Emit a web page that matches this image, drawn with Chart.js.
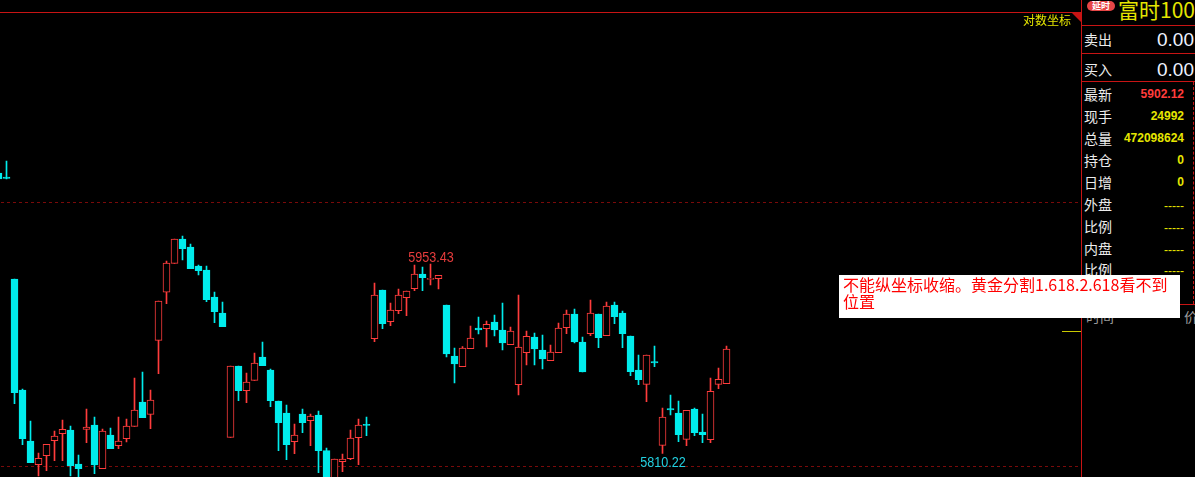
<!DOCTYPE html>
<html>
<head>
<meta charset="utf-8">
<title>K线</title>
<script src="https://cdn.jsdelivr.net/npm/chart.js@4.4.1/dist/chart.umd.min.js"></script>
<style>
  html, body { margin: 0; padding: 0; background: #000; }
  #wrap { position: relative; width: 1195px; height: 477px; overflow: hidden; background: #000;
          font-family: "Noto Sans CJK SC", sans-serif; }
  #kline { position: absolute; left: -6px; top: 0; }
  .a { position: absolute; white-space: nowrap; }
  .hl { position: absolute; height: 1px; background: #c81414; }
  .mark { position: absolute; font: 14px "Liberation Sans", Arial, sans-serif; line-height: 14px;
          transform: translateX(-50%) scaleX(0.9); white-space: nowrap; }
  #side { position: absolute; left: 1081px; top: 0; width: 114px; height: 477px; background: #000;
          border-left: 1px solid #c81414; }
  .lab { position: absolute; left: 2px; font-size: 14px; line-height: 20px; color: #ececec; }
  .val { position: absolute; right: 12px; font: bold 12px "Liberation Sans", Arial, sans-serif; line-height: 20px; }
  .big { position: absolute; right: 2px; font: 19px "Liberation Sans", Arial, sans-serif; line-height: 20px; color: #eef2ff; }
  .yel { color: #e6e600; }
  #note { position: absolute; left: 839px; top: 275px; width: 337px; height: 42px; background: #fff;
          padding: 1px 0 0 4px; font-size: 16px; line-height: 17px; color: #f00; white-space: nowrap; z-index: 5; }
</style>
</head>
<body>
<div id="wrap">
  <canvas id="kline" width="1089" height="477"></canvas>

  <div class="hl" style="left:0;top:12px;width:1081px"></div>
  <div class="a" style="left:1072px;top:13px;width:0;height:0;border-top:9px solid #c81414;border-left:9px solid transparent"></div>
  <div class="a yel" style="right:124px;top:13px;font-size:12px;line-height:14px">对数坐标</div>
  <div class="a" style="left:1062px;top:331px;width:19px;height:1px;background:#c8c800"></div>

  <div class="mark" id="hiMark" style="color:#e63c3c"></div>
  <div class="mark" id="loMark" style="color:#22d0e0"></div>

  <div id="side">
    <div class="a" style="left:5px;top:1px;width:28px;height:10px;border-radius:5px;background:#e64646;color:#fff;font-size:9px;line-height:10px;font-weight:bold;text-align:center">延时</div>
    <div class="a yel" style="left:36px;top:-3px;font-size:21px;line-height:24px">富时100</div>
    <div class="hl" style="left:0;top:25px;width:114px"></div>
    <div class="hl" style="left:0;top:53px;width:114px"></div>
    <div class="hl" style="left:0;top:81px;width:114px"></div>
    <div class="hl" style="left:0;top:304px;width:114px"></div>
    <div class="a" style="left:111px;top:82px;height:222px;border-left:1px dashed #c81414"></div>

    <div class="lab" style="top:29px">卖出</div><div class="big" style="top:30px">0.00</div>
    <div class="lab" style="top:59px">买入</div><div class="big" style="top:60px">0.00</div>

    <div class="lab" style="top:84px">最新</div><div class="val" style="top:84px;color:#ff3c3c">5902.12</div>
    <div class="lab" style="top:106px">现手</div><div class="val yel" style="top:106px">24992</div>
    <div class="lab" style="top:128px">总量</div><div class="val yel" style="top:128px">472098624</div>
    <div class="lab" style="top:150px">持仓</div><div class="val yel" style="top:150px">0</div>
    <div class="lab" style="top:172px">日增</div><div class="val yel" style="top:172px">0</div>
    <div class="lab" style="top:194px">外盘</div><div class="val yel" style="top:196px;font-weight:normal">-----</div>
    <div class="lab" style="top:216px">比例</div><div class="val yel" style="top:218px;font-weight:normal">-----</div>
    <div class="lab" style="top:238px">内盘</div><div class="val yel" style="top:240px;font-weight:normal">-----</div>
    <div class="lab" style="top:259px">比例</div><div class="val yel" style="top:261px;font-weight:normal">-----</div>

    <div class="lab" style="top:306px;left:4px;color:#9a9a9a">时间</div>
    <div class="lab" style="top:306px;left:102px;color:#9a9a9a">价</div>
  </div>

  <div id="note">不能纵坐标收缩。黄金分割1.618.2.618看不到<br>位置</div>
</div>

<script>
// daily bars, first one is cut by the left edge
const opens = [
  6022.28, 6019.25, 5942.09, 5858.11, 5819.53, 5801.60, 5808.41, 5819.76, 5825.06, 5827.85,
  5802.13, 5828.38, 5831.64, 5798.58, 5824.07, 5815.98, 5821.27, 5830.65, 5849.04, 5839.73,
  5895.71, 5932.03, 5953.96, 5972.35, 5966.29, 5951.92, 5948.89, 5928.47, 5916.37, 5822.33,
  5876.27, 5857.59, 5865.45, 5883.08, 5873.24, 5849.79, 5840.72, 5819.00, 5839.96, 5834.89,
  5839.20, 5812.20, 5790.03, 5803.87, 5806.14, 5822.03, 5832.17, 5896.92, 5933.76, 5909.78,
  5918.11, 5927.94, 5934.75, 5945.87, 5941.86, 5942.32, 5922.42, 5883.84, 5875.74, 5889.36,
  5905.02, 5904.49, 5909.56, 5903.50, 5892.38, 5862.12, 5886.33, 5898.21, 5888.37, 5880.28,
  5886.33, 5905.24, 5915.61, 5894.43, 5900.71, 5915.61, 5899.19, 5922.42, 5916.37, 5898.97,
  5873.24, 5862.43, 5879.68, 5816.28, 5844.12, 5840.72, 5820.82, 5843.74, 5826.34, 5820.52,
  5862.43, 5862.88
];
const highs = [
  6022.28, 6031.35, 5942.09, 5858.87, 5834.66, 5810.46, 5817.04, 5827.10, 5835.42, 5830.88,
  5808.94, 5843.74, 5837.69, 5828.61, 5829.37, 5837.69, 5836.18, 5867.19, 5871.73, 5858.11,
  5925.44, 5955.70, 5972.35, 5974.62, 5968.56, 5952.68, 5951.92, 5932.25, 5924.69, 5876.27,
  5876.27, 5870.98, 5886.11, 5894.43, 5874.00, 5849.79, 5846.77, 5832.39, 5843.74, 5839.96,
  5842.23, 5814.24, 5805.92, 5809.70, 5827.85, 5836.18, 5837.69, 5939.06, 5933.76, 5923.93,
  5934.52, 5933.01, 5952.68, 5951.16, 5953.43, 5944.89, 5922.42, 5889.89, 5890.87, 5906.53,
  5913.34, 5910.31, 5914.85, 5923.93, 5905.77, 5929.98, 5902.75, 5901.24, 5899.72, 5892.16,
  5908.80, 5918.63, 5919.39, 5898.21, 5926.20, 5915.61, 5924.69, 5924.69, 5917.88, 5898.97,
  5884.59, 5884.59, 5891.40, 5844.50, 5854.33, 5849.79, 5842.76, 5844.50, 5839.96, 5867.19,
  5874.76, 5891.40
];
const lows = [
  6017.74, 6017.74, 5847.75, 5816.73, 5803.12, 5793.06, 5797.07, 5804.63, 5804.63, 5793.06,
  5792.30, 5818.25, 5794.80, 5798.58, 5813.71, 5813.71, 5818.78, 5830.65, 5837.16, 5828.84,
  5870.45, 5923.40, 5953.96, 5956.46, 5949.88, 5945.11, 5924.91, 5909.03, 5906.00, 5822.33,
  5850.02, 5848.51, 5865.45, 5876.50, 5845.48, 5812.20, 5805.39, 5809.93, 5825.81, 5815.98,
  5795.55, 5786.00, 5788.00, 5796.31, 5805.39, 5801.60, 5823.54, 5894.65, 5904.49, 5906.76,
  5915.84, 5914.32, 5933.24, 5933.24, 5937.55, 5934.52, 5883.08, 5863.41, 5875.74, 5889.36,
  5900.48, 5890.64, 5898.97, 5888.37, 5892.38, 5854.33, 5877.03, 5877.03, 5874.00, 5880.28,
  5886.33, 5900.71, 5893.67, 5871.73, 5899.19, 5890.11, 5899.19, 5908.27, 5890.11, 5868.93,
  5862.12, 5849.26, 5875.74, 5810.22, 5839.20, 5819.00, 5815.98, 5823.54, 5818.25, 5818.25,
  5859.10, 5862.88
];
const closes = [
  6017.74, 6018.12, 5856.07, 5821.27, 5803.12, 5806.45, 5817.04, 5823.32, 5828.38, 5800.85,
  5798.58, 5830.12, 5801.38, 5827.10, 5813.71, 5819.53, 5830.88, 5842.98, 5837.16, 5850.55,
  5925.44, 5954.19, 5972.35, 5965.01, 5949.88, 5948.37, 5926.43, 5917.35, 5906.00, 5876.27,
  5857.59, 5864.17, 5878.54, 5876.50, 5850.02, 5833.38, 5816.73, 5824.07, 5833.38, 5838.45,
  5812.20, 5790.03, 5805.92, 5805.92, 5821.80, 5831.64, 5831.41, 5929.98, 5908.27, 5918.63,
  5929.98, 5933.01, 5945.87, 5943.07, 5942.32, 5944.89, 5885.35, 5877.78, 5889.89, 5897.45,
  5903.50, 5907.82, 5903.50, 5893.67, 5902.75, 5890.64, 5898.74, 5889.13, 5881.57, 5886.86,
  5905.02, 5915.61, 5894.43, 5871.73, 5916.37, 5897.68, 5921.66, 5913.57, 5900.71, 5871.96,
  5865.91, 5884.59, 5878.54, 5837.69, 5842.98, 5824.30, 5842.76, 5825.81, 5824.30, 5857.13,
  5866.21, 5889.13
];

const gridLevels = [5800, 6000];
const slotCount = 136;          // visible bar slots across the price pane
const markWindow = 46;          // bars used for the high / low tags
const yMin = 5792.30, yMax = 6153.15;

const upColor = '#ff3c3c';
const downColor = '#00ecec';

const slots = Array.from({ length: slotCount }, (_, i) => String(i - 1));
const isUp = opens.map((o, i) => closes[i] >= o);

// puts the high / low tags next to the extreme bars
const extremeMarks = {
  id: 'extremeMarks',
  afterDraw(chart) {
    const xs = chart.scales.x, ys = chart.scales.y;
    const from = opens.length - markWindow;
    let hi = from, lo = from;
    for (let i = from; i < opens.length; i++) {
      if (highs[i] > highs[hi]) hi = i;
      if (lows[i] < lows[lo]) lo = i;
    }
    const off = chart.canvas.offsetLeft;
    const hiEl = document.getElementById('hiMark');
    hiEl.textContent = highs[hi].toFixed(2);
    hiEl.style.left = (xs.getPixelForValue(hi) + off) + 'px';
    hiEl.style.top = (ys.getPixelForValue(highs[hi]) - 14) + 'px';
    const loEl = document.getElementById('loMark');
    loEl.textContent = lows[lo].toFixed(2);
    loEl.style.left = (xs.getPixelForValue(lo) + off) + 'px';
    loEl.style.top = (ys.getPixelForValue(lows[lo]) + 1.5) + 'px';
  }
};

new Chart(document.getElementById('kline'), {
  type: 'bar',
  data: {
    labels: slots,
    datasets: [
      {
        label: 'body',
        data: opens.map((o, i) => [o, closes[i]]),
        backgroundColor: isUp.map(u => u ? '#000000' : downColor),
        borderColor: isUp.map(u => u ? upColor : downColor),
        borderWidth: 1,
        borderSkipped: false,
        barThickness: 7,
        minBarLength: 1,
        grouped: false,
        order: 0
      },
      {
        label: 'wick',
        data: lows.map((l, i) => [l, highs[i]]),
        backgroundColor: isUp.map(u => u ? upColor : downColor),
        borderWidth: 0,
        barThickness: 1,
        grouped: false,
        order: 1
      }
    ]
  },
  options: {
    responsive: false,
    animation: false,
    devicePixelRatio: 1,
    layout: { padding: { left: 0.5, right: 0.5, top: 0, bottom: 0 } },
    plugins: {
      legend: { display: false },
      tooltip: { enabled: false }
    },
    scales: {
      x: { display: false, offset: true },
      y: {
        min: yMin,
        max: yMax,
        ticks: { display: false },
        afterBuildTicks: axis => { axis.ticks = gridLevels.map(v => ({ value: v })); },
        grid: { color: '#7a0a0a', drawTicks: false, lineWidth: 1 },
        border: { display: false, dash: [3, 3] }
      }
    }
  },
  plugins: [extremeMarks]
});
</script>
</body>
</html>
